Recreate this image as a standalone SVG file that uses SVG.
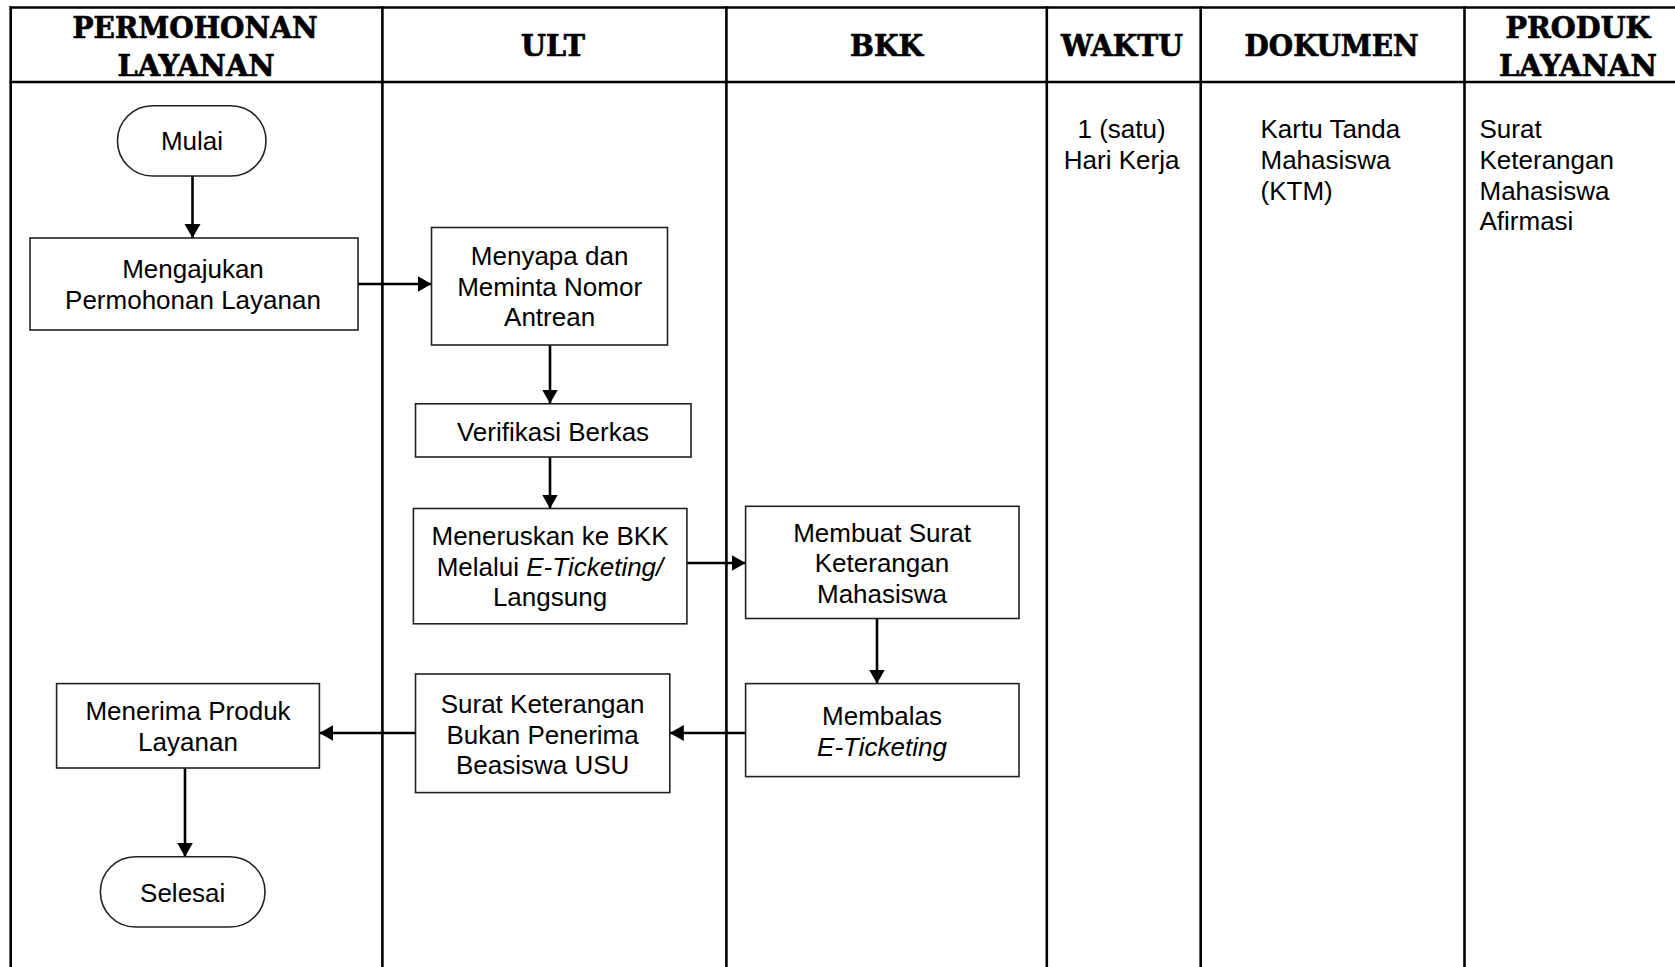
<svg xmlns="http://www.w3.org/2000/svg" width="1675" height="967" viewBox="0 0 1675 967">
<style>
.grid{stroke:#000;stroke-width:2.6;fill:none}
.hd{font-family:"DejaVu Serif","Liberation Serif",serif;font-weight:bold;font-size:29px;fill:#000;stroke:#000;stroke-width:0.7;text-anchor:middle}
.box{fill:#fff;stroke:#222;stroke-width:1.6}
.t{font-family:"Liberation Sans",Arial,sans-serif;font-size:26px;fill:#000;text-anchor:middle}
.tl{font-family:"Liberation Sans",Arial,sans-serif;font-size:26px;fill:#000;text-anchor:start}
.i{font-style:italic}
.cn{stroke:#000;stroke-width:2.6;fill:none;marker-end:url(#ah)}
</style>
<defs>
<marker id="ah" markerUnits="userSpaceOnUse" markerWidth="15" markerHeight="17" refX="14" refY="8" orient="auto">
<path d="M0,0 L14,8 L0,16 z" fill="#000"/>
</marker>
</defs>
<rect width="1675" height="967" fill="#fff"/>
<g id="table">
<line class="grid" x1="9.5" y1="7.5" x2="1675" y2="7.5"/>
<line class="grid" x1="9.5" y1="82" x2="1675" y2="82"/>
<line class="grid" x1="10.7" y1="6.2" x2="10.7" y2="967"/>
<line class="grid" x1="382.4" y1="6.2" x2="382.4" y2="967"/>
<line class="grid" x1="726.4" y1="6.2" x2="726.4" y2="967"/>
<line class="grid" x1="1046.8" y1="6.2" x2="1046.8" y2="967"/>
<line class="grid" x1="1200.7" y1="6.2" x2="1200.7" y2="967"/>
<line class="grid" x1="1464.5" y1="6.2" x2="1464.5" y2="967"/>
<text class="hd" x="195" y="37.5" textLength="245" lengthAdjust="spacingAndGlyphs">PERMOHONAN</text>
<text class="hd" x="196" y="75.5" textLength="157" lengthAdjust="spacingAndGlyphs">LAYANAN</text>
<text class="hd" x="553" y="56" textLength="64" lengthAdjust="spacingAndGlyphs">ULT</text>
<text class="hd" x="886.6" y="56" textLength="73" lengthAdjust="spacingAndGlyphs">BKK</text>
<text class="hd" x="1122" y="56" textLength="122" lengthAdjust="spacingAndGlyphs">WAKTU</text>
<text class="hd" x="1331.6" y="56" textLength="174" lengthAdjust="spacingAndGlyphs">DOKUMEN</text>
<text class="hd" x="1578" y="37.5" textLength="145" lengthAdjust="spacingAndGlyphs">PRODUK</text>
<text class="hd" x="1578" y="75.5" textLength="158" lengthAdjust="spacingAndGlyphs">LAYANAN</text>
<text class="t" x="1121.6" y="138">1 (satu)</text>
<text class="t" x="1121.6" y="169">Hari Kerja</text>
<text class="tl" x="1260.5" y="138">Kartu Tanda</text>
<text class="tl" x="1260.5" y="169">Mahasiswa</text>
<text class="tl" x="1260.5" y="200">(KTM)</text>
<text class="tl" x="1479.5" y="138">Surat</text>
<text class="tl" x="1479.5" y="169">Keterangan</text>
<text class="tl" x="1479.5" y="200">Mahasiswa</text>
<text class="tl" x="1479.5" y="230">Afirmasi</text>
</g>
<g id="connectors">
<line class="cn" x1="192.5" y1="176" x2="192.5" y2="238"/>
<line class="cn" x1="358" y1="284" x2="431.5" y2="284"/>
<line class="cn" x1="550" y1="345" x2="550" y2="403.5"/>
<line class="cn" x1="550" y1="457" x2="550" y2="508.5"/>
<line class="cn" x1="687" y1="563" x2="745.6" y2="563"/>
<line class="cn" x1="877" y1="618.5" x2="877" y2="683.6"/>
<line class="cn" x1="745.6" y1="733" x2="669.8" y2="733"/>
<line class="cn" x1="415.5" y1="733" x2="319.4" y2="733"/>
<line class="cn" x1="185" y1="768" x2="185" y2="856.7"/>
</g>
<g id="mulai">
<rect class="box" x="117.5" y="105.7" width="148.5" height="70.3" rx="35" ry="35"/>
<text class="t" x="192" y="150">Mulai</text>
</g>
<g id="mengajukan">
<rect class="box" x="30" y="238" width="328" height="92"/>
<text class="t" x="193" y="278">Mengajukan</text>
<text class="t" x="193" y="309">Permohonan Layanan</text>
</g>
<g id="menyapa">
<rect class="box" x="431.5" y="227.5" width="236" height="117.5"/>
<text class="t" x="549.6" y="265">Menyapa dan</text>
<text class="t" x="549.6" y="296">Meminta Nomor</text>
<text class="t" x="549.6" y="326">Antrean</text>
</g>
<g id="verifikasi">
<rect class="box" x="415.5" y="403.8" width="275.5" height="53.2"/>
<text class="t" x="553" y="441">Verifikasi Berkas</text>
</g>
<g id="meneruskan">
<rect class="box" x="413.4" y="508.5" width="273.5" height="115.3"/>
<text class="t" x="550" y="545">Meneruskan ke BKK</text>
<text class="t" x="550" y="575.5">Melalui <tspan class="i">E-Ticketing/</tspan></text>
<text class="t" x="550" y="606">Langsung</text>
</g>
<g id="membuat">
<rect class="box" x="745.6" y="506.3" width="273.4" height="112.2"/>
<text class="t" x="882" y="542">Membuat Surat</text>
<text class="t" x="882" y="572">Keterangan</text>
<text class="t" x="882" y="603">Mahasiswa</text>
</g>
<g id="membalas">
<rect class="box" x="745.6" y="683.6" width="273.4" height="93"/>
<text class="t" x="882" y="725">Membalas</text>
<text class="t i" x="882" y="756">E-Ticketing</text>
</g>
<g id="surat-keterangan">
<rect class="box" x="415.5" y="674" width="254.3" height="118.6"/>
<text class="t" x="542.6" y="713">Surat Keterangan</text>
<text class="t" x="542.6" y="744">Bukan Penerima</text>
<text class="t" x="542.6" y="774">Beasiswa USU</text>
</g>
<g id="menerima">
<rect class="box" x="56.6" y="683.6" width="262.8" height="84.4"/>
<text class="t" x="188" y="720">Menerima Produk</text>
<text class="t" x="188" y="751">Layanan</text>
</g>
<g id="selesai">
<rect class="box" x="100.4" y="856.7" width="164.6" height="70.3" rx="35" ry="35"/>
<text class="t" x="182.7" y="902">Selesai</text>
</g>
</svg>
